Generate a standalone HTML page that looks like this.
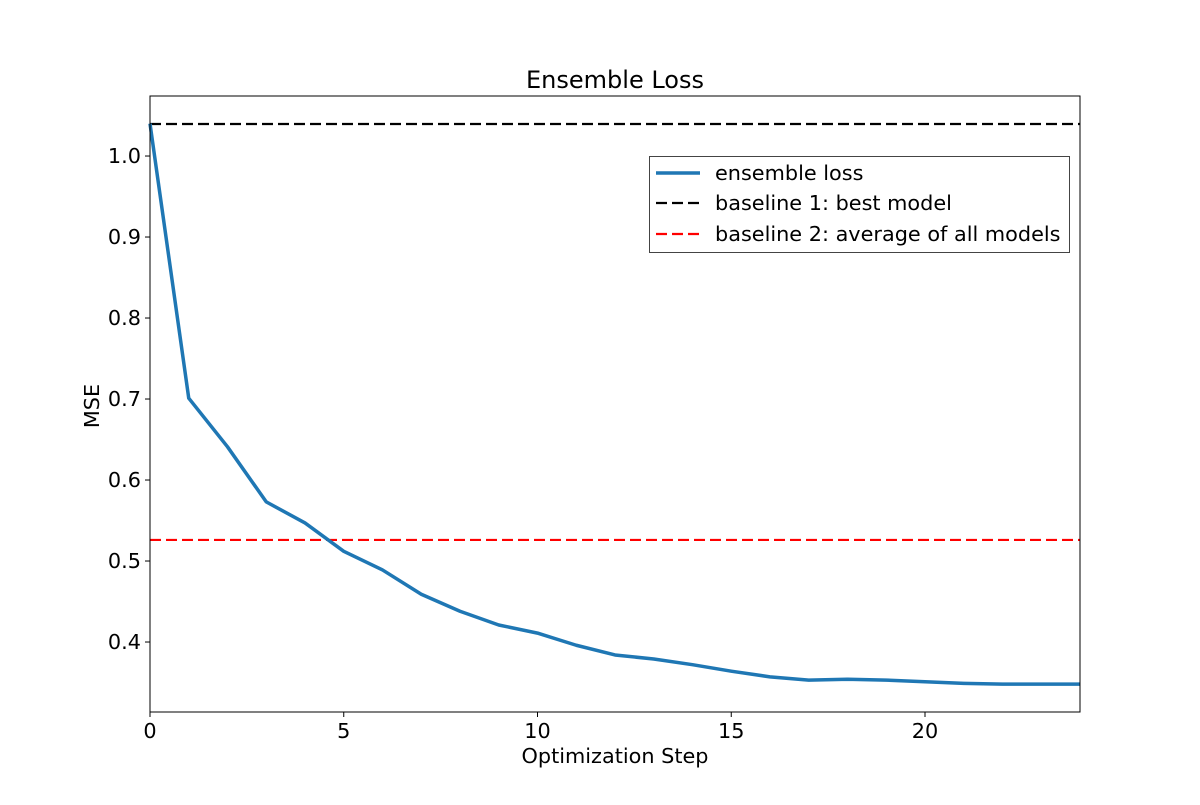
<!DOCTYPE html>
<html><head><meta charset="utf-8"><style>
body{margin:0;background:#fff}
svg text{font-family:"DejaVu Sans","Liberation Sans",sans-serif;fill:#000}
</style></head><body>
<svg id="chart" width="1200" height="800" xmlns="http://www.w3.org/2000/svg">
<rect width="1200" height="800" fill="#fff"/>
<g id="marks"></g>
<g id="axes"></g>
<text x="615" y="88" font-size="24" text-anchor="middle">Ensemble Loss</text>
<text x="615" y="763" font-size="20.8" text-anchor="middle">Optimization Step</text>
<text x="99" y="406" font-size="20.8" text-anchor="middle" transform="rotate(-90 99 406)">MSE</text>
<g>
<rect x="649.5" y="156.5" width="420" height="96" fill="#fff" stroke="#444" stroke-width="1"/>
<line x1="656" y1="173" x2="700" y2="173" stroke="#1f77b4" stroke-width="3.5"/>
<text x="715" y="180" font-size="20.8">ensemble loss</text>
<line x1="656" y1="203" x2="700" y2="203" stroke="#000" stroke-width="2.2" stroke-dasharray="11,5"/>
<text x="715" y="210" font-size="20.8">baseline 1: best model</text>
<line x1="656" y1="234" x2="700" y2="234" stroke="red" stroke-width="2.2" stroke-dasharray="11,5"/>
<text x="715" y="241" font-size="20.8">baseline 2: average of all models</text>
</g>
</svg>
<script>
const steps=[0,1,2,3,4,5,6,7,8,9,10,11,12,13,14,15,16,17,18,19,20,21,22,23,24];
const lossValues=[1.04,0.701,0.641,0.573,0.547,0.512,0.489,0.459,0.438,0.421,0.411,0.396,0.384,0.379,0.372,0.364,0.357,0.353,0.354,0.353,0.351,0.349,0.348,0.348,0.348];
const baselineBest=[1.0395];
const baselineAvg=[0.526];
const xTicks=[0,5,10,15,20];
const yTicks=[0.4,0.5,0.6,0.7,0.8,0.9,1.0];
const L=150,R=1080,T=96,B=712,xMin=0,xMax=24,yMin=0.3136,yMax=1.0741;
const sx=v=>L+(v-xMin)/(xMax-xMin)*(R-L);
const sy=v=>B-(v-yMin)/(yMax-yMin)*(B-T);
const NS="http://www.w3.org/2000/svg";
const marks=document.getElementById('marks'),axes=document.getElementById('axes');
function mk(tag,attrs,parent){const e=document.createElementNS(NS,tag);for(const k in attrs)e.setAttribute(k,attrs[k]);parent.appendChild(e);return e;}
const hb=mk('line',{x1:L,x2:R,y1:sy(baselineBest[0]),y2:sy(baselineBest[0]),stroke:'#000','stroke-width':2.2,'stroke-dasharray':'11,5'},marks);


const ha=mk('line',{x1:L,x2:R,y1:sy(baselineAvg[0]),y2:sy(baselineAvg[0]),stroke:'red','stroke-width':2.2,'stroke-dasharray':'11,5'},marks);


const pl=mk('polyline',{points:steps.map((s,i)=>sx(s)+','+sy(lossValues[i])).join(' '),fill:'none',stroke:'#1f77b4','stroke-width':3.5,'stroke-linejoin':'round'},marks);


const fr=mk('rect',{x:L,y:T,width:R-L,height:B-T,fill:'none',stroke:'#000','stroke-width':1},axes);


xTicks.forEach(t=>{
 mk('line',{x1:sx(t),x2:sx(t),y1:B,y2:B+5,stroke:'#000'},axes);
 const tx=mk('text',{x:sx(t),y:B+26,'font-size':20.8,'text-anchor':'middle'},axes);tx.textContent=t;
 
 
});
yTicks.forEach(t=>{
 mk('line',{x1:L-5,x2:L,y1:sy(t),y2:sy(t),stroke:'#000'},axes);
 const tx=mk('text',{x:L-9,y:sy(t)+7,'font-size':20.8,'text-anchor':'end'},axes);tx.textContent=t.toFixed(1);
 
 
});
</script>
</body></html>
